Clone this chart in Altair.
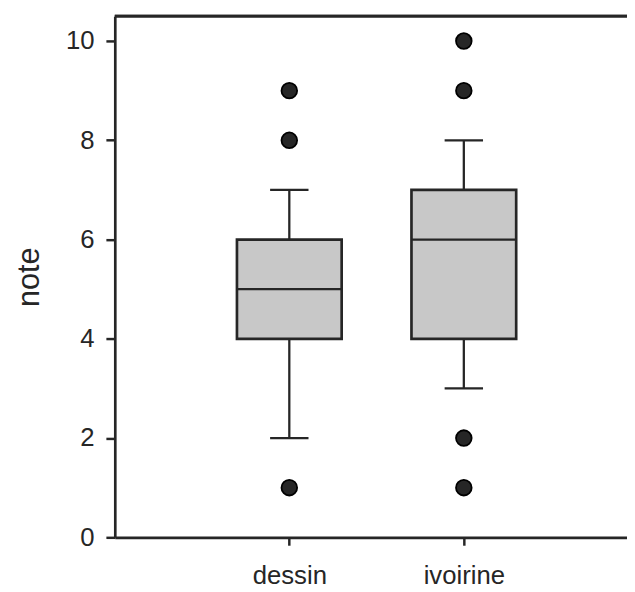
import altair as alt
import pandas as pd

categories = ["dessin", "ivoirine"]
positions = [1, 2]
q1 = [4, 4]
median = [5, 6]
q3 = [6, 7]
whisker_low = [2, 3]
whisker_high = [7, 8]
outlier_cat = ["dessin", "dessin", "dessin", "ivoirine", "ivoirine", "ivoirine", "ivoirine"]
outlier_val = [1, 8, 9, 1, 2, 9, 10]

box_df = pd.DataFrame({
    "cat": categories, "pos": positions, "q1": q1, "median": median,
    "q3": q3, "lo": whisker_low, "hi": whisker_high,
})
pos_map = dict(zip(categories, positions))
out_df = pd.DataFrame({"cat": outlier_cat, "note": outlier_val})
out_df["pos"] = out_df["cat"].map(pos_map)

INK = "#262626"
FONT = "Liberation Sans"
label_expr = " : ".join(
    [f"datum.value == {p} ? '{c}'" for c, p in zip(categories, positions)]
) + " : ''"

xscale = alt.Scale(domain=[0, 2.935], nice=False, zero=False)
yscale = alt.Scale(domain=[0, 10.5], nice=False)

xaxis = alt.Axis(values=positions, labelExpr=label_expr, title=None, grid=False,
                 tickSize=8, tickWidth=2.5, tickColor=INK, domainColor=INK, domainWidth=2.7,
                 labelFont=FONT, labelFontSize=26, labelColor=INK, labelPadding=18)
yaxis = alt.Axis(values=[0, 2, 4, 6, 8, 10], title="note", grid=False,
                 tickSize=9, tickWidth=2.5, tickColor=INK, domainColor=INK, domainWidth=2.7,
                 labelFont=FONT, labelFontSize=26, labelColor=INK, labelPadding=12,
                 titleFont=FONT, titleFontSize=31, titleFontWeight="normal",
                 titleColor=INK, titlePadding=20)

base = alt.Chart(box_df)

whisk_up = base.mark_rule(color=INK, strokeWidth=2.3).encode(
    x=alt.X("pos:Q", scale=xscale, axis=xaxis),
    y=alt.Y("q3:Q", scale=yscale, axis=yaxis),
    y2="hi:Q",
)
whisk_dn = base.mark_rule(color=INK, strokeWidth=2.3).encode(
    x=alt.X("pos:Q", scale=xscale), y=alt.Y("q1:Q", scale=yscale), y2="lo:Q",
)
box = base.transform_calculate(
    xl="datum.pos - 0.30", xr="datum.pos + 0.30"
).mark_rect(fill="#c8c8c8", stroke=INK, strokeWidth=2.7).encode(
    x=alt.X("xl:Q", scale=xscale), x2="xr:Q",
    y=alt.Y("q1:Q", scale=yscale), y2="q3:Q",
)
med = base.transform_calculate(
    xl="datum.pos - 0.30", xr="datum.pos + 0.30"
).mark_rule(color=INK, strokeWidth=2.3).encode(
    x=alt.X("xl:Q", scale=xscale), x2="xr:Q", y=alt.Y("median:Q", scale=yscale),
)
caps = base.transform_calculate(
    xl="datum.pos - 0.11", xr="datum.pos + 0.11"
).transform_fold(["lo", "hi"], as_=["which", "v"]).mark_rule(color=INK, strokeWidth=2.3).encode(
    x=alt.X("xl:Q", scale=xscale), x2="xr:Q", y=alt.Y("v:Q", scale=yscale),
)
pts = alt.Chart(out_df).mark_point(
    filled=True, fill=INK, stroke="#000000", strokeWidth=1.8, size=250, opacity=1, shape="circle"
).encode(
    x=alt.X("pos:Q", scale=xscale), y=alt.Y("note:Q", scale=yscale),
)
top = alt.Chart(box_df).mark_rule(color=INK, strokeWidth=2.7).encode(y=alt.value(0))

chart = alt.layer(top, whisk_up, whisk_dn, box, med, caps, pts).properties(
    width=518, height=527,
    autosize=alt.AutoSizeParams(type="none"),
    padding={"left": 108, "top": 5, "right": 0, "bottom": 52},
).configure_view(stroke=None).configure(background="white")

chart.save("out.html", embed_options={"renderer": "svg", "actions": False})
